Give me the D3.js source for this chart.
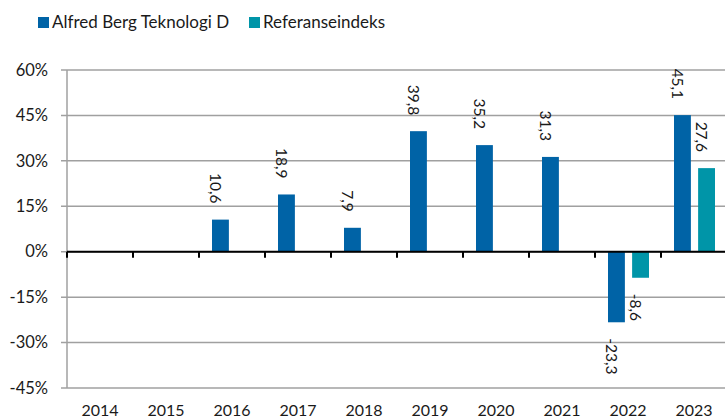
<!DOCTYPE html>
<html>
<head>
<meta charset="utf-8">
<script src="https://cdn.jsdelivr.net/npm/d3@7"></script>
<style>
  body { margin: 0; background: #fff; }
  svg { display: block; font-family: Lato, "Open Sans", sans-serif; }
</style>
</head>
<body>
<div id="chart"></div>
<script>
// data
const years = ["2014", "2015", "2016", "2017", "2018", "2019", "2020", "2021", "2022", "2023"];
const seriesNames = ["Alfred Berg Teknologi D", "Referanseindeks"];
const fundValues = [null, null, 10.6, 18.9, 7.9, 39.8, 35.2, 31.3, -23.3, 45.1];
const indexValues = [null, null, null, null, null, null, null, null, -8.6, 27.6];
const yTicks = [-45, -30, -15, 0, 15, 30, 45, 60];
const colors = ["#0063a6", "#0095a8"];

const width = 725, height = 420;
const margin = { top: 70, right: -2, bottom: 32, left: 67 };

const svg = d3.select("#chart").append("svg")
    .attr("width", width)
    .attr("height", height);

const x = d3.scaleBand()
    .domain(years)
    .range([margin.left, width - margin.right]);

const xSub = d3.scaleBand()
    .domain(seriesNames)
    .range([13, 54])
    .paddingInner(0.3);

const y = d3.scaleLinear()
    .domain([-45, 60])
    .range([height - margin.bottom, margin.top]);

// norwegian style number: comma decimal, plain hyphen
const fmt = v => v.toFixed(1).replace(".", ",");

// gridlines
svg.append("g")
    .selectAll("line")
    .data(yTicks)
    .join("line")
    .attr("x1", margin.left - 6)
    .attr("x2", width)
    .attr("y1", d => y(d))
    .attr("y2", d => y(d))
    .attr("stroke", "#a0a0a0")
    .attr("stroke-width", 1.5);

// y axis line
svg.append("line")
    .attr("x1", margin.left).attr("x2", margin.left)
    .attr("y1", y(60)).attr("y2", y(-45))
    .attr("stroke", "#a0a0a0")
    .attr("stroke-width", 1.5);

// y tick labels
svg.append("g")
    .selectAll("text")
    .data(yTicks)
    .join("text")
    .attr("x", 48)
    .attr("y", d => y(d))
    .attr("dy", "0.35em")
    .attr("text-anchor", "end")
    .style("font-size", "16.5px")
    .style("fill", "#1a1a1a")
    .text(d => d + "%");

// bars
const rows = years.map((yr, i) => ({ year: yr, vals: [fundValues[i], indexValues[i]] }));

const groups = svg.append("g")
    .selectAll("g")
    .data(rows)
    .join("g")
    .attr("transform", d => `translate(${x(d.year)},0)`);

const cells = groups.selectAll("g")
    .data(d => d.vals.map((v, j) => ({ name: seriesNames[j], value: v, color: colors[j] })).filter(c => c.value !== null))
    .join("g");

cells.append("rect")
    .attr("x", d => xSub(d.name))
    .attr("width", xSub.bandwidth())
    .attr("y", d => y(Math.max(0, d.value)))
    .attr("height", d => Math.abs(y(d.value) - y(0)))
    .attr("fill", d => d.color);

// value labels, rotated
cells.append("text")
    .attr("transform", d => {
        const cx = xSub(d.name) + xSub.bandwidth() / 2 - 5;
        const cy = d.value >= 0 ? y(d.value) - 16 : y(d.value) + 16;
        return `translate(${cx},${cy}) rotate(90)`;
    })
    .attr("text-anchor", d => d.value >= 0 ? "end" : "start")
    .attr("dy", "0.35em")
    .style("font-size", "15.5px")
    .style("fill", "#1a1a1a")
    .text(d => fmt(d.value));

// zero line
svg.append("line")
    .attr("x1", margin.left).attr("x2", width)
    .attr("y1", y(0)).attr("y2", y(0))
    .attr("stroke", "#000")
    .attr("stroke-width", 2);

// category ticks
svg.append("g")
    .selectAll("line")
    .data(years)
    .join("line")
    .attr("x1", d => x(d)).attr("x2", d => x(d))
    .attr("y1", y(0)).attr("y2", y(0) + 6)
    .attr("stroke", "#000")
    .attr("stroke-width", 2);

// x labels
svg.append("g")
    .selectAll("text")
    .data(years)
    .join("text")
    .attr("x", d => x(d) + x.bandwidth() / 2)
    .attr("y", 416)
    .attr("text-anchor", "middle")
    .style("font-size", "16px")
    .style("fill", "#1a1a1a")
    .text(d => d);

// legend
const legendX = [38, 249];
const legend = svg.append("g")
    .selectAll("g")
    .data(seriesNames)
    .join("g")
    .attr("transform", (d, i) => `translate(${legendX[i]},17)`);

legend.append("rect")
    .attr("width", 11)
    .attr("height", 11)
    .attr("fill", (d, i) => colors[i]);

legend.append("text")
    .attr("x", 14)
    .attr("y", 11)
    .style("font-size", "17px")
    .style("fill", "#1a1a1a")
    .text(d => d);
</script>
</body>
</html>
